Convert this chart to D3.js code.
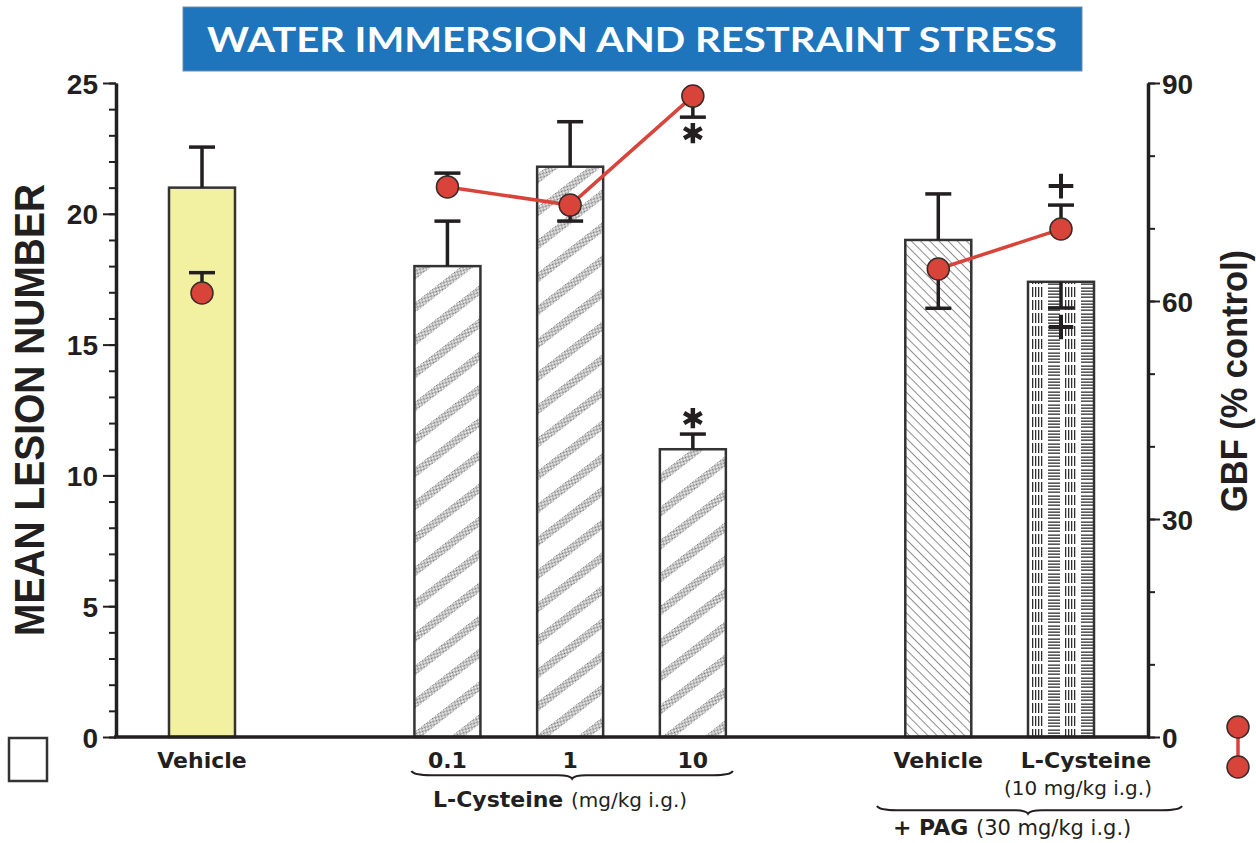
<!DOCTYPE html>
<html lang="en">
<head>
<meta charset="UTF-8">
<title>Water immersion and restraint stress</title>
<script src="https://d3js.org/d3.v7.min.js"></script>
<style>
body { margin: 0; background: #fff; }
svg { display: block; }
.axis path, .axis line { stroke: #231f20; fill: none; }
.axis text { font-family: "Liberation Sans", Arial, sans-serif; font-weight: bold; font-size: 28px; fill: #231f20; }
.xlab { font-family: "DejaVu Sans", sans-serif; font-weight: bold; fill: #231f20; }
.thin { font-weight: normal; }
</style>
</head>
<body>
<script>
// data
var groups    = ["Vehicle", "0.1", "1", "10", "Vehicle", "L-Cysteine"];
var slots     = [0, 2, 3, 4, 6, 7];          // position along the x axis (gaps between groups)
var fills     = ["yellow", "stripe", "stripe", "stripe", "hatch", "weave"];
var lesion    = [21.0, 18.0, 21.8, 11.0, 19.0, 17.4];
var lesionErr = [1.55, 1.72, 1.72, 0.58, 1.76, 1.0];
var lesionDir = [1, 1, 1, 1, 1, -1];          // 1 = error drawn upward, -1 = downward
var lesionSig = ["", "", "", "*", "", "+"];
var gbf       = [61.1, 75.7, 73.2, 88.2, 64.4, 69.9];
var gbfErr    = [2.8, 1.9, 2.2, 2.9, 5.4, 3.3];
var gbfDir    = [1, 1, -1, -1, -1, 1];
var gbfSig    = ["", "", "", "*", "", "+"];
var gbfLines  = [[1, 2, 3], [4, 5]];          // connected points
var leftTicks  = [0, 5, 10, 15, 20, 25];
var rightTicks = [0, 30, 60, 90];

var width = 1256, height = 843;
var svg = d3.select('body').append('svg')
    .attr('width', width).attr('height', height)
    .attr('font-family', '"DejaVu Sans", sans-serif');

var ink = '#231f20';
var red = '#d8433a';

// scales
var x = d3.scaleLinear().domain([0, 7]).range([202, 1061]);
var yL = d3.scaleLinear().domain([0, 25]).range([737, 83]);
var yR = d3.scaleLinear().domain([0, 90]).range([737, 83]);
var barW = 66;

// patterns
var defs = svg.append('defs');
var stip = defs.append('pattern').attr('id', 'stipple')
    .attr('patternUnits', 'userSpaceOnUse').attr('width', 2).attr('height', 2);
stip.append('rect').attr('width', 1).attr('height', 1).attr('fill', '#6d6d6d');
stip.append('rect').attr('x', 1).attr('y', 1).attr('width', 1).attr('height', 1).attr('fill', '#9a9a9a');

var stripe = defs.append('pattern').attr('id', 'stripe')
    .attr('patternUnits', 'userSpaceOnUse').attr('width', 20).attr('height', 26)
    .attr('patternTransform', 'rotate(-38)');
stripe.append('rect').attr('width', 20).attr('height', 26).attr('fill', '#fff');
stripe.append('rect').attr('y', 0).attr('width', 20).attr('height', 8).attr('fill', 'url(#stipple)');

var hatch = defs.append('pattern').attr('id', 'hatch')
    .attr('patternUnits', 'userSpaceOnUse').attr('width', 8).attr('height', 6.5)
    .attr('patternTransform', 'rotate(45)');
hatch.append('rect').attr('width', 8).attr('height', 6.5).attr('fill', '#fff');
hatch.append('line').attr('x1', 0).attr('x2', 8).attr('y1', 0.5).attr('y2', 0.5)
    .attr('stroke', '#8c8c8c').attr('stroke-width', 1);

// basket weave: a group of short vertical strokes next to a group of short horizontal strokes
var weave = defs.append('pattern').attr('id', 'weave')
    .attr('patternUnits', 'userSpaceOnUse').attr('width', 33).attr('height', 13)
    .attr('x', 1031).attr('y', 286);
weave.append('rect').attr('width', 33).attr('height', 13).attr('fill', '#fff');
[1, 4, 7, 10].forEach(function(v) {
  weave.append('rect').attr('x', v).attr('y', 1).attr('width', 1.3).attr('height', 10)
      .attr('fill', '#2f2f2f');
});
[1.5, 4.5, 7.5, 10.5].forEach(function(v) {
  weave.append('rect').attr('x', 17).attr('y', v).attr('width', 12).attr('height', 1.3)
      .attr('fill', '#2f2f2f');
});

var fillOf = { yellow: '#f2f1a1', stripe: 'url(#stripe)', hatch: 'url(#hatch)', weave: 'url(#weave)' };

// title
svg.append('rect').attr('x', 183).attr('y', 7).attr('width', 899).attr('height', 64)
    .attr('fill', '#1e75bb').attr('stroke', '#6f8ca6').attr('stroke-width', 1);
svg.append('text').attr('x', 632).attr('y', 52).attr('text-anchor', 'middle')
    .attr('fill', '#fff').attr('font-size', 35).attr('font-weight', 'bold')
    .attr('font-family', 'Lato, "DejaVu Sans", sans-serif')
    .attr('textLength', 850).attr('lengthAdjust', 'spacingAndGlyphs')
    .text('WATER IMMERSION AND RESTRAINT STRESS');

var idx = d3.range(lesion.length);

// bars
svg.selectAll('.bar').data(idx).enter().append('rect')
    .attr('class', 'bar')
    .attr('x', function(i) { return x(slots[i]) - barW / 2; })
    .attr('y', function(i) { return yL(lesion[i]); })
    .attr('width', barW)
    .attr('height', function(i) { return yL(0) - yL(lesion[i]); })
    .attr('fill', function(i) { return fillOf[fills[i]]; })
    .attr('stroke', '#333').attr('stroke-width', 2.5);

// one-sided error bars
function errBar(cls, scale, vals, errs, dirs) {
  var g = svg.selectAll('.' + cls).data(idx).enter().append('g').attr('class', cls);
  g.append('line')
    .attr('x1', function(i) { return x(slots[i]); })
    .attr('x2', function(i) { return x(slots[i]); })
    .attr('y1', function(i) { return scale(vals[i]); })
    .attr('y2', function(i) { return scale(vals[i] + dirs[i] * errs[i]); })
    .attr('stroke', ink).attr('stroke-width', 3.5);
  g.append('line')
    .attr('x1', function(i) { return x(slots[i]) - 13; })
    .attr('x2', function(i) { return x(slots[i]) + 13; })
    .attr('y1', function(i) { return scale(vals[i] + dirs[i] * errs[i]); })
    .attr('y2', function(i) { return scale(vals[i] + dirs[i] * errs[i]); })
    .attr('stroke', ink).attr('stroke-width', 3.5);
}
errBar('lerr', yL, lesion, lesionErr, lesionDir);

// significance marks
function sigMarks(scale, vals, errs, dirs, sigs) {
  idx.filter(function(i) { return sigs[i]; }).forEach(function(i) {
    var yEnd = scale(vals[i] + dirs[i] * errs[i]);
    var plus = sigs[i] === '+';
    var cy = yEnd - dirs[i] * (plus ? 19 : 16);
    svg.append('path')
      .attr('d', d3.symbol().type(plus ? d3.symbolPlus : d3.symbolAsterisk).size(plus ? 200 : 290)())
      .attr('transform', 'translate(' + x(slots[i]) + ',' + cy + ')')
      .attr('fill', 'none').attr('stroke', ink).attr('stroke-width', plus ? 4 : 4.5);
  });
}
sigMarks(yL, lesion, lesionErr, lesionDir, lesionSig);

// GBF error bars, lines, dots
errBar('gerr', yR, gbf, gbfErr, gbfDir);
sigMarks(yR, gbf, gbfErr, gbfDir, gbfSig);

var line = d3.line().x(function(i) { return x(slots[i]); }).y(function(i) { return yR(gbf[i]); });
svg.selectAll('.gline').data(gbfLines).enter().append('path')
    .attr('class', 'gline').attr('d', line)
    .attr('fill', 'none').attr('stroke', red).attr('stroke-width', 3.5);

svg.selectAll('.dot').data(idx).enter().append('circle')
    .attr('class', 'dot')
    .attr('cx', function(i) { return x(slots[i]); })
    .attr('cy', function(i) { return yR(gbf[i]); })
    .attr('r', 11)
    .attr('fill', red).attr('stroke', '#3a2a2a').attr('stroke-width', 1.5);

// axes
var gL = svg.append('g').attr('class', 'axis').attr('transform', 'translate(116,0)');
gL.call(d3.axisLeft(yL).tickValues(d3.range(0, 26)).tickSize(7).tickSizeOuter(0).tickFormat(''));
gL.selectAll('path,line').attr('stroke-width', 2);
var gL2 = svg.append('g').attr('class', 'axis').attr('transform', 'translate(116,0)');
gL2.call(d3.axisLeft(yL).tickValues(leftTicks).tickSize(13).tickSizeOuter(0).tickPadding(5));
gL2.select('.domain').attr('stroke-width', 3.5);
gL2.selectAll('line').attr('stroke-width', 2);
gL2.selectAll('text').attr('dy', '0.36em');

var gR = svg.append('g').attr('class', 'axis').attr('transform', 'translate(1148,0)');
gR.call(d3.axisRight(yR).tickValues(d3.range(0, 91, 10)).tickSize(7).tickSizeOuter(0).tickFormat(''));
gR.selectAll('path,line').attr('stroke-width', 2);
var gR2 = svg.append('g').attr('class', 'axis').attr('transform', 'translate(1148,0)');
gR2.call(d3.axisRight(yR).tickValues(rightTicks).tickSize(12).tickSizeOuter(0).tickPadding(2));
gR2.select('.domain').attr('stroke-width', 3.5);
gR2.selectAll('line').attr('stroke-width', 2);
gR2.selectAll('text').attr('dy', '0.36em');

// baseline
svg.append('line').attr('x1', 114).attr('x2', 1150).attr('y1', yL(0)).attr('y2', yL(0))
    .attr('stroke', ink).attr('stroke-width', 3.5);

// axis titles
svg.append('text')
    .attr('transform', 'translate(44,410) rotate(-90)')
    .attr('text-anchor', 'middle')
    .attr('font-family', '"Liberation Sans", Arial, sans-serif')
    .attr('font-weight', 'bold').attr('font-size', 42).attr('fill', ink)
    .attr('textLength', 452).attr('lengthAdjust', 'spacingAndGlyphs')
    .text('MEAN LESION NUMBER');
svg.append('text')
    .attr('transform', 'translate(1247,381) rotate(-90)')
    .attr('text-anchor', 'middle')
    .attr('font-family', '"Liberation Sans", Arial, sans-serif')
    .attr('font-weight', 'bold').attr('font-size', 36).attr('fill', ink)
    .attr('textLength', 262).attr('lengthAdjust', 'spacingAndGlyphs')
    .text('GBF (% control)');

// category labels
svg.selectAll('.cat').data(idx).enter().append('text')
    .attr('class', 'xlab')
    .attr('x', function(i) { return x(slots[i]) + (i === 5 ? 25 : 0); })
    .attr('y', 768)
    .attr('text-anchor', 'middle')
    .attr('font-size', 22)
    .text(function(i) { return groups[i]; });

svg.append('text').attr('class', 'xlab thin').attr('x', 1078).attr('y', 795)
    .attr('text-anchor', 'middle').attr('font-size', 20)
    .text('(10 mg/kg i.g.)');

// braces
function brace(x1, x2, xt, y0, h) {
  var p = d3.path();
  p.moveTo(x1, y0);
  p.quadraticCurveTo(x1 + 2, y0 + h * 0.7, x1 + 20, y0 + h * 0.7);
  p.lineTo(xt - 14, y0 + h * 0.7);
  p.quadraticCurveTo(xt - 2, y0 + h * 0.7, xt, y0 + h * 1.3);
  p.quadraticCurveTo(xt + 2, y0 + h * 0.7, xt + 14, y0 + h * 0.7);
  p.lineTo(x2 - 20, y0 + h * 0.7);
  p.quadraticCurveTo(x2 - 2, y0 + h * 0.7, x2, y0);
  return p.toString();
}
svg.append('path').attr('d', brace(x(2) - 36, x(4) + 40, x(3) + 2, 771, 6))
    .attr('fill', 'none').attr('stroke', ink).attr('stroke-width', 2);
svg.append('path').attr('d', brace(877, 1182, 1028, 806, 6))
    .attr('fill', 'none').attr('stroke', ink).attr('stroke-width', 2);

var t1 = svg.append('text').attr('class', 'xlab').attr('x', 433).attr('y', 807).attr('font-size', 22);
t1.append('tspan').text('L-Cysteine ');
t1.append('tspan').attr('class', 'thin').attr('font-size', 20).text('(mg/kg i.g.)');

var t2 = svg.append('text').attr('class', 'xlab').attr('x', 893).attr('y', 835).attr('font-size', 22);
t2.append('tspan').text('+ PAG ');
t2.append('tspan').attr('class', 'thin').attr('font-size', 21).text('(30 mg/kg i.g.)');

// legend keys
svg.append('rect').attr('x', 9).attr('y', 738).attr('width', 38).attr('height', 43)
    .attr('fill', '#fff').attr('stroke', '#333').attr('stroke-width', 2.5);
svg.append('line').attr('x1', 1238).attr('x2', 1238).attr('y1', 727).attr('y2', 767)
    .attr('stroke', red).attr('stroke-width', 3.5);
svg.selectAll('.lkey').data([727, 767]).enter().append('circle')
    .attr('cx', 1238).attr('cy', function(d) { return d; }).attr('r', 11)
    .attr('fill', red).attr('stroke', '#3a2a2a').attr('stroke-width', 1.5);
</script>
</body>
</html>
